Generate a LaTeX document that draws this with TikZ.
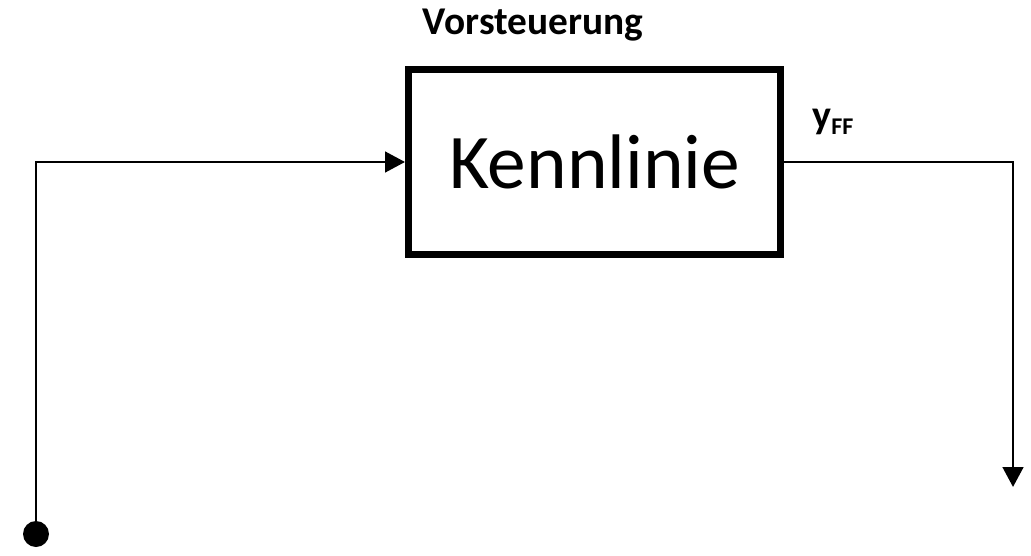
\documentclass[tikz,border=0pt]{standalone}
\usepackage{fontspec}
\setmainfont{Carlito}
\usetikzlibrary{arrows.meta}
\begin{document}
\begin{tikzpicture}[x=0.75pt,y=0.75pt,yscale=-1,xscale=1]
\useasboundingbox (0,0) rectangle (1031,556);
\tikzset{
  blockbox/.style={draw,line width=5.25pt,minimum width=279pt,minimum height=138.75pt,inner sep=0pt},
  sig/.style={line width=2pt},
  sigarrow/.style={sig,-{Triangle[length=15pt,width=15.5pt]}}
}

\node [blockbox,font=\fontsize{58}{60}\selectfont] (kl) at (594.5,162) {Kennlinie};
\node [font=\bfseries\fontsize{29.5}{32}\selectfont] (vst) at (533,25) {Vorsteuerung};
\node [font=\bfseries\fontsize{30}{32}\selectfont] (yff) at (833,122) {y\raisebox{-0.3ex}{\fontsize{18}{18}\selectfont FF}};

\node [circle,fill=black,minimum size=19.5pt,inner sep=0pt] (in) at (36,534) {};
\coordinate (c1) at (36,162);
\coordinate (c2) at (1013,162);
\coordinate (out) at (1013,487);

\draw [sigarrow] (in.center) -- (c1) -- (kl.west);
\draw [sigarrow] (kl.east) -- (c2) -- (out);

\end{tikzpicture}
\end{document}
